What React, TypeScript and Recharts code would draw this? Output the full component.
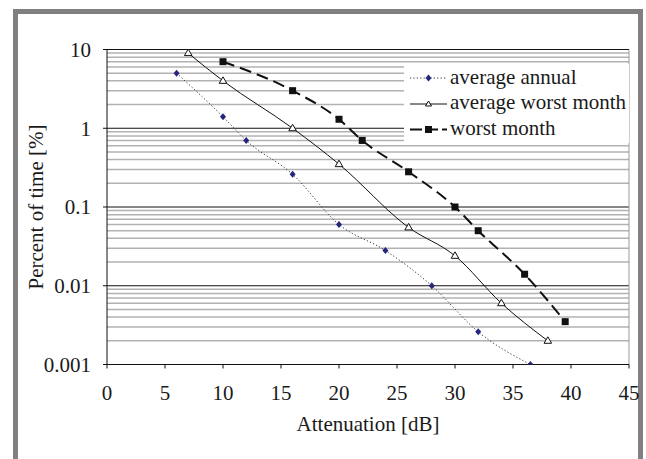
import { LineChart, Line, XAxis, YAxis, ReferenceLine, Legend, Label } from "recharts"

// attenuation exceeded vs percent of time
const annualX = [6, 10, 12, 16, 20, 24, 28, 32, 36.5]
const annualY = [5, 1.4, 0.7, 0.26, 0.06, 0.028, 0.01, 0.0026, 0.001]
const avgWorstX = [7, 10, 16, 20, 26, 30, 34, 38]
const avgWorstY = [9, 4, 1, 0.35, 0.055, 0.024, 0.006, 0.002]
const worstX = [10, 16, 20, 22, 26, 30, 32, 36, 39.5]
const worstY = [7, 3, 1.3, 0.7, 0.28, 0.1, 0.05, 0.014, 0.0035]

const xTicks = [0, 5, 10, 15, 20, 25, 30, 35, 40, 45]
const yTicks = [0.001, 0.01, 0.1, 1, 10]
const minorGrid = [
  0.002, 0.003, 0.004, 0.005, 0.006, 0.007, 0.008, 0.009,
  0.02, 0.03, 0.04, 0.05, 0.06, 0.07, 0.08, 0.09,
  0.2, 0.3, 0.4, 0.5, 0.6, 0.7, 0.8, 0.9,
  2, 3, 4, 5, 6, 7, 8, 9,
]

const seriesNames = ["average annual", "average worst month", "worst month"]

const zip = (xs: number[], ys: number[]) => xs.map((x, i) => ({ x, y: ys[i] }))
const annualData = zip(annualX, annualY)
const avgWorstData = zip(avgWorstX, avgWorstY)
const worstData = zip(worstX, worstY)

const FONT = "'Liberation Serif', 'Times New Roman', serif"
const TEXT = "#1a1a1a"
const NAVY = "#26267c"

const Diamond = (p: any) => {
  const { cx, cy, index } = p
  if (cx == null || cy == null) return <g key={index} />
  return <path key={index} d={`M${cx},${cy - 3.5}L${cx + 3},${cy}L${cx},${cy + 3.5}L${cx - 3},${cy}Z`} fill={NAVY} />
}

const Triangle = (p: any) => {
  const { cx, cy, index } = p
  if (cx == null || cy == null) return <g key={index} />
  return (
    <path
      key={index}
      d={`M${cx},${cy - 4}L${cx + 3.8},${cy + 2.5}L${cx - 3.8},${cy + 2.5}Z`}
      fill="#fff"
      stroke="#111"
      strokeWidth={1}
    />
  )
}

const Square = (p: any) => {
  const { cx, cy, index } = p
  if (cx == null || cy == null) return <g key={index} />
  return <rect key={index} x={cx - 3.5} y={cy - 3.5} width={7} height={7} fill="#111" />
}

const LegendBox = () => (
  <svg width={225} height={79} style={{ display: "block", background: "#fff" }}>
    {/* average annual */}
    <line x1={6} y1={14} x2={43} y2={14} stroke="#333" strokeDasharray="1.2 2.2" />
    <path d="M24.5,10.5L27.5,14L24.5,17.5L21.5,14Z" fill={NAVY} />
    {/* average worst month */}
    <line x1={6} y1={40} x2={43} y2={40} stroke="#111" />
    <path d="M24.5,37L27.5,42L21.5,42Z" fill="#fff" stroke="#111" />
    {/* worst month */}
    <line x1={6} y1={65.5} x2={43} y2={65.5} stroke="#111" strokeWidth={2} strokeDasharray="12 4" />
    <rect x={21} y={62} width={7} height={7} fill="#111" />
    {seriesNames.map((n, i) => (
      <text key={n} x={46} y={19.5 + i * 25.5} fontFamily={FONT} fontSize={21} fill={TEXT}>
        {n}
      </text>
    ))}
  </svg>
)

export default function App() {
  const tickStyle = { fill: TEXT, fontSize: 21, fontFamily: FONT }
  return (
    <div style={{ position: "absolute", left: 0, top: 0, width: 646, height: 459, background: "#fff" }}>
      {/* grey frame */}
      <div style={{ position: "absolute", left: 13, top: 9, width: 630, height: 5, background: "#808080" }} />
      <div style={{ position: "absolute", left: 13, top: 9, width: 5, height: 450, background: "#808080" }} />
      <div style={{ position: "absolute", left: 638, top: 9, width: 5, height: 450, background: "#808080" }} />
      <div style={{ position: "absolute", left: 0, top: 0 }}>
        <LineChart width={646} height={459} margin={{ top: 49.5, right: 17, bottom: 64.5, left: 0 }}>
          <XAxis
            type="number"
            dataKey="x"
            domain={[0, 45]}
            ticks={xTicks}
            allowDataOverflow
            stroke="#111"
            tickSize={4}
            tickMargin={17}
            height={30}
            tick={tickStyle}
            tickLine={{ stroke: "#111" }}
          >
            <Label
              content={() => (
                <text x={368} y={430.5} textAnchor="middle" fontFamily={FONT} fontSize={21} fill={TEXT}>
                  Attenuation [dB]
                </text>
              )}
            />
          </XAxis>
          <YAxis
            type="number"
            dataKey="y"
            scale="log"
            domain={[0.001, 10]}
            ticks={yTicks}
            allowDataOverflow
            width={107}
            stroke="#111"
            tickSize={4}
            tickMargin={12}
            tick={tickStyle}
            tickLine={{ stroke: "#111" }}
            tickFormatter={(v: number) => String(v)}
          >
            <Label
              content={() => (
                <text
                  x={42.5}
                  y={207}
                  transform="rotate(-90 42.5 207)"
                  textAnchor="middle"
                  fontFamily={FONT}
                  fontSize={21}
                  fill={TEXT}
                >
                  Percent of time [%]
                </text>
              )}
            />
          </YAxis>
          {minorGrid.map((v) => (
            <ReferenceLine key={"m" + v} y={v} stroke="#b2b2b2" strokeWidth={1.5} />
          ))}
          {yTicks.map((v) => (
            <ReferenceLine key={"M" + v} y={v} stroke="#111" strokeWidth={1} />
          ))}
          <ReferenceLine x={45} stroke="#999" strokeWidth={1} />
          <Line
            data={annualData}
            dataKey="y"
            name={seriesNames[0]}
            type="monotone"
            stroke="#333"
            strokeWidth={1}
            strokeDasharray="1.2 2.2"
            dot={Diamond}
            activeDot={false}
            isAnimationActive={false}
          />
          <Line
            data={avgWorstData}
            dataKey="y"
            name={seriesNames[1]}
            type="monotone"
            stroke="#111"
            strokeWidth={1}
            dot={Triangle}
            activeDot={false}
            isAnimationActive={false}
          />
          <Line
            data={worstData}
            dataKey="y"
            name={seriesNames[2]}
            type="monotone"
            stroke="#111"
            strokeWidth={2}
            strokeDasharray="12 6"
            dot={Square}
            activeDot={false}
            isAnimationActive={false}
          />
          <Legend
            layout="horizontal"
            align="center"
            verticalAlign="middle"
            wrapperStyle={{ left: 404, top: 64, width: 225, height: 79 }}
            content={() => <LegendBox />}
          />
        </LineChart>
      </div>
    </div>
  )
}
